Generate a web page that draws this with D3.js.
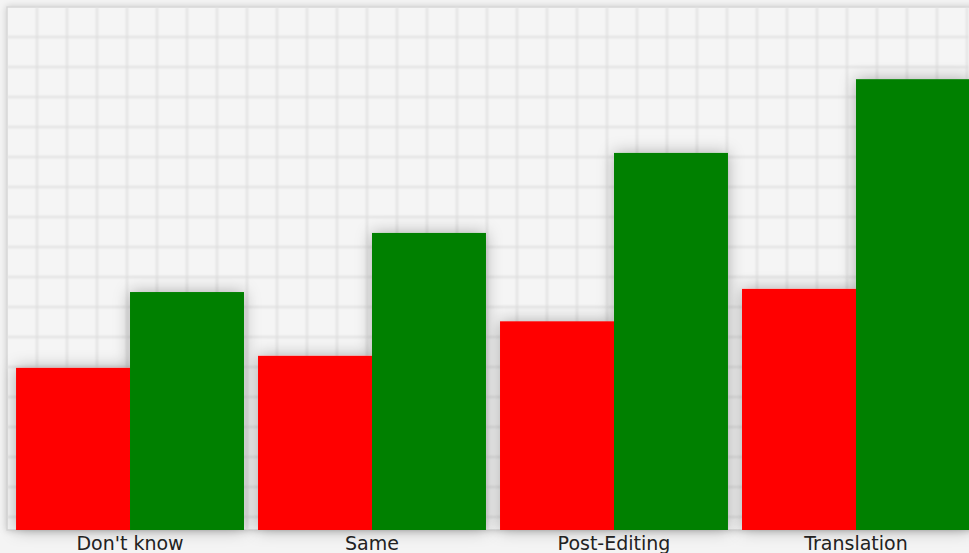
<!DOCTYPE html>
<html>
<head>
<meta charset="utf-8">
<script src="https://cdn.jsdelivr.net/npm/d3@7/dist/d3.min.js"></script>
<style>
  html, body { margin: 0; padding: 0; background: #f4f4f4; }
  svg { display: block; }
</style>
</head>
<body>
<svg id="chart" width="969" height="553"></svg>
<script>
// Categories and the two series (percent of responses)
const categories = ["Don't know", "Same", "Post-Editing", "Translation"];
const seriesNames = ["Worse", "Better"];
const worseValues = [31.0, 33.3, 39.9, 46.1];
const betterValues = [45.5, 56.8, 72.1, 86.2];
const seriesColors = ["#ff0000", "#008000"];

const W = 969, H = 553;
const plot = { left: 7, top: 7, right: 984, bottom: 530 };

const svg = d3.select("#chart");
const defs = svg.append("defs");

const shadow = defs.append("filter").attr("id", "barShadow")
  .attr("x", "-25%").attr("y", "-25%").attr("width", "150%").attr("height", "150%");
shadow.append("feDropShadow").attr("dx", 0).attr("dy", 0)
  .attr("stdDeviation", 8).attr("flood-color", "#000").attr("flood-opacity", 0.3);

const frameShadow = defs.append("filter").attr("id", "frameShadow")
  .attr("x", "-5%").attr("y", "-5%").attr("width", "110%").attr("height", "110%");
frameShadow.append("feDropShadow").attr("dx", 0).attr("dy", 0)
  .attr("stdDeviation", 3).attr("flood-color", "#000").attr("flood-opacity", 0.18);

const soft = defs.append("filter").attr("id", "soft");
soft.append("feGaussianBlur").attr("stdDeviation", 0.8);

// page background
svg.append("rect").attr("width", W).attr("height", H).attr("fill", "#f4f4f4");

// plot frame
svg.append("rect")
  .attr("x", plot.left).attr("y", plot.top)
  .attr("width", plot.right - plot.left).attr("height", plot.bottom - plot.top)
  .attr("fill", "#f5f5f5")
  .attr("stroke", "#d6d6d6").attr("stroke-width", 1.5)
  .attr("filter", "url(#frameShadow)");

// scales
const x0 = d3.scaleBand().domain(categories).range([2, 984]).paddingInner(0.058).paddingOuter(0.058);
const x1 = d3.scaleBand().domain(seriesNames).range([0, x0.bandwidth()]);
const y = d3.scaleLinear().domain([0, 100]).range([plot.bottom, plot.top]);

// background grid, 30px cells
const gx = d3.scaleLinear().domain([0, 1]).range([plot.left, plot.left + 30]);
const gy = d3.scaleLinear().domain([0, 1]).range([plot.top, plot.top + 30]);
const grid = svg.append("g").attr("filter", "url(#soft)");
grid.selectAll("line.v").data(d3.range(1, 33)).join("line")
  .attr("class", "v")
  .attr("x1", d => gx(d)).attr("x2", d => gx(d))
  .attr("y1", plot.top).attr("y2", plot.bottom)
  .attr("stroke", "#e0e0e0").attr("stroke-width", 2);
grid.selectAll("line.h").data(d3.range(1, 18)).join("line")
  .attr("class", "h")
  .attr("y1", d => gy(d)).attr("y2", d => gy(d))
  .attr("x1", plot.left).attr("x2", W)
  .attr("stroke", "#e0e0e0").attr("stroke-width", 2);

// bars
const rows = categories.map((c, i) => ({
  category: c,
  values: [
    { name: seriesNames[0], value: worseValues[i], color: seriesColors[0] },
    { name: seriesNames[1], value: betterValues[i], color: seriesColors[1] }
  ]
}));

const groups = svg.append("g").selectAll("g").data(rows).join("g")
  .attr("transform", d => `translate(${x0(d.category)},0)`)
  .attr("filter", "url(#barShadow)");

groups.selectAll("rect").data(d => d.values).join("rect")
  .attr("x", d => x1(d.name))
  .attr("y", d => y(d.value))
  .attr("width", x1.bandwidth())
  .attr("height", d => y(0) - y(d.value))
  .attr("fill", d => d.color);

// category labels
const xAxis = svg.append("g")
  .attr("transform", `translate(0,${plot.bottom})`)
  .call(d3.axisBottom(x0).tickSize(0).tickPadding(7));
xAxis.select(".domain").remove();
xAxis.selectAll("text")
  .attr("font-family", "DejaVu Sans, Verdana, sans-serif")
  .attr("font-size", 19)
  .attr("fill", "#222");
</script>
</body>
</html>
